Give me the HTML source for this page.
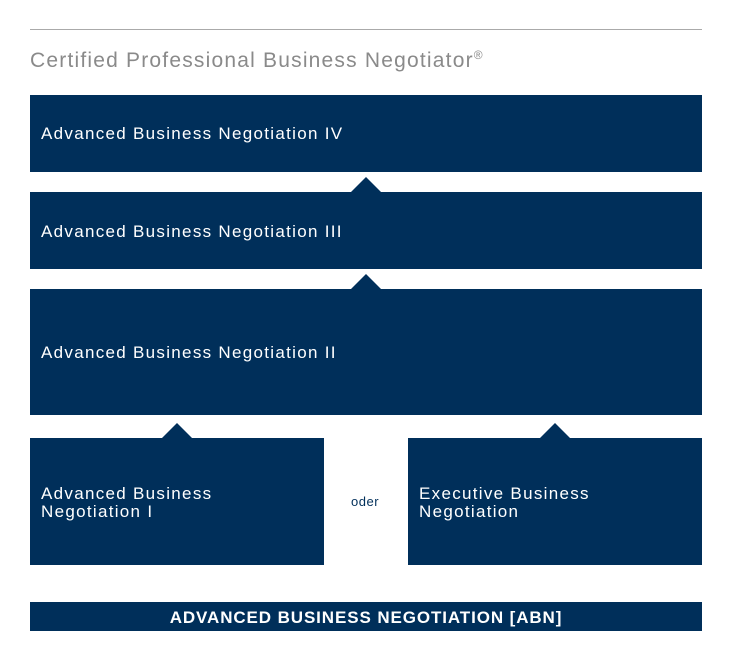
<!DOCTYPE html>
<html><head><style>
body{margin:0;width:740px;height:670px;background:#fff;position:relative;font-family:"Liberation Sans",sans-serif;overflow:hidden}
.b{position:absolute;background:#002f5a;color:#fff;font-size:17px;letter-spacing:1.3px}
.b span{position:absolute;left:11px}
.t{position:absolute;width:0;height:0;border-left:15px solid transparent;border-right:15px solid transparent;border-bottom:15px solid #002f5a}
</style></head><body>
<div style="position:absolute;left:30px;top:29px;width:672px;height:1px;background:#aaa"></div>
<div style="position:absolute;left:30px;top:48px;font-size:21px;color:#8a8a8a;letter-spacing:1.2px">Certified Professional Business Negotiator<sup style="font-size:12px">®</sup></div>
<div class="b" style="left:30px;top:95px;width:672px;height:77px"><span style="top:29px">Advanced Business Negotiation IV</span></div>
<div class="t" style="left:351px;top:177px"></div>
<div class="b" style="left:30px;top:192px;width:672px;height:77px"><span style="top:30px">Advanced Business Negotiation III</span></div>
<div class="t" style="left:351px;top:274px"></div>
<div class="b" style="left:30px;top:289px;width:672px;height:126px"><span style="top:54px">Advanced Business Negotiation II</span></div>
<div class="t" style="left:162px;top:423px"></div>
<div class="t" style="left:540px;top:423px"></div>
<div class="b" style="left:30px;top:438px;width:294px;height:127px"><span style="top:47px;line-height:18px">Advanced Business<br>Negotiation I</span></div>
<div style="position:absolute;left:351px;top:494px;font-size:13px;letter-spacing:0.5px;color:#002f5a">oder</div>
<div class="b" style="left:408px;top:438px;width:294px;height:127px"><span style="top:47px;line-height:18px">Executive Business<br>Negotiation</span></div>
<div class="b" style="left:30px;top:602px;width:672px;height:29px;text-align:center;font-weight:bold;font-size:17px;letter-spacing:0.9px;line-height:31px">ADVANCED BUSINESS NEGOTIATION [ABN]</div>
</body></html>
